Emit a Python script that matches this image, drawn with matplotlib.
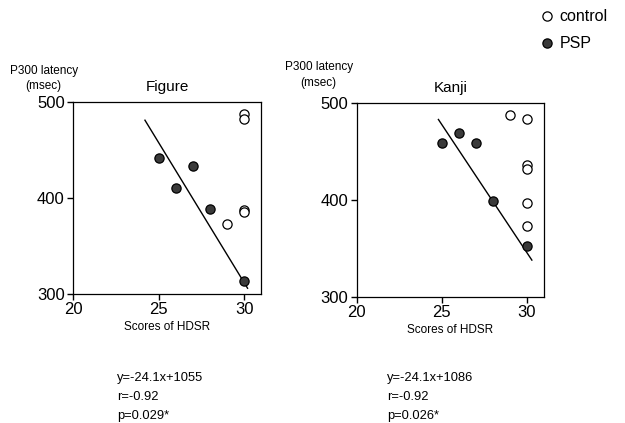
import matplotlib.pyplot as plt

# Figure panel
fig_ctrl_x = [29, 30, 30, 30, 30]
fig_ctrl_y = [373, 487, 482, 387, 385]
fig_psp_x = [25, 26, 27, 28, 30]
fig_psp_y = [442, 410, 433, 388, 314]
fig_line_x = [24.2, 30.2]
fig_line_y = [481, 306]

# Kanji panel
kan_ctrl_x = [29, 30, 30, 30, 30, 30]
kan_ctrl_y = [488, 483, 436, 432, 397, 373]
kan_psp_x = [25, 26, 27, 28, 30]
kan_psp_y = [459, 469, 459, 399, 353]
kan_line_x = [24.8, 30.3]
kan_line_y = [483, 338]

xticks = [20, 25, 30]
yticks = [300, 400, 500]

plt.rcParams['font.family'] = ['Liberation Sans', 'DejaVu Sans']

fig = plt.figure(figsize=(6.25, 4.23), dpi=100)


def panel(rect, title, cx, cy, px, py, lx, ly, stats, ylab_x, ylab_y, msec_y, stats_x):
    ax = fig.add_axes(rect)
    ax.plot(lx, ly, color='k', lw=1)
    ax.scatter(cx, cy, s=44, facecolor='white', edgecolor='k', lw=0.9, zorder=3)
    ax.scatter(px, py, s=44, facecolor='#3a3a3a', edgecolor='k', lw=0.9, zorder=3)
    ax.set_xlim(20, 31)
    ax.set_ylim(300, 500)
    ax.set_xticks(xticks)
    ax.set_yticks(yticks)
    ax.tick_params(direction='out', length=4, width=1, labelsize=12, pad=2)
    for s in ax.spines.values():
        s.set_linewidth(0.9)
    ax.set_title(title, fontsize=11, pad=8)
    ax.set_xlabel("Scores of HDSR", fontsize=8.5, labelpad=3)
    fig.text(ylab_x, ylab_y, "P300 latency", fontsize=8.5)
    fig.text(ylab_x + 0.024, msec_y, "(msec)", fontsize=8.5)
    fig.text(stats_x, 0.12, stats, fontsize=9.3, linespacing=1.75, va='top')
    return ax


panel([0.117, 0.305, 0.301, 0.454], "Figure", fig_ctrl_x, fig_ctrl_y,
      fig_psp_x, fig_psp_y, fig_line_x, fig_line_y,
      "y=-24.1x+1055\nr=-0.92\np=0.029*", 0.016, 0.826, 0.789, 0.187)
panel([0.571, 0.298, 0.299, 0.4585], "Kanji", kan_ctrl_x, kan_ctrl_y,
      kan_psp_x, kan_psp_y, kan_line_x, kan_line_y,
      "y=-24.1x+1086\nr=-0.92\np=0.026*", 0.456, 0.835, 0.797, 0.619)

# legend
fig.text(0.895, 0.962, "control", fontsize=11.5, va='center')
fig.text(0.895, 0.898, "PSP", fontsize=11.5, va='center')
lax = fig.add_axes([0.86, 0.88, 0.03, 0.1])
lax.set_xlim(0, 1)
lax.set_ylim(0, 1)
lax.axis('off')
lax.scatter([0.5], [0.82], s=44, facecolor='white', edgecolor='k', lw=0.9)
lax.scatter([0.5], [0.18], s=44, facecolor='#3a3a3a', edgecolor='k', lw=0.9)

plt.savefig("out.png", dpi=100)
